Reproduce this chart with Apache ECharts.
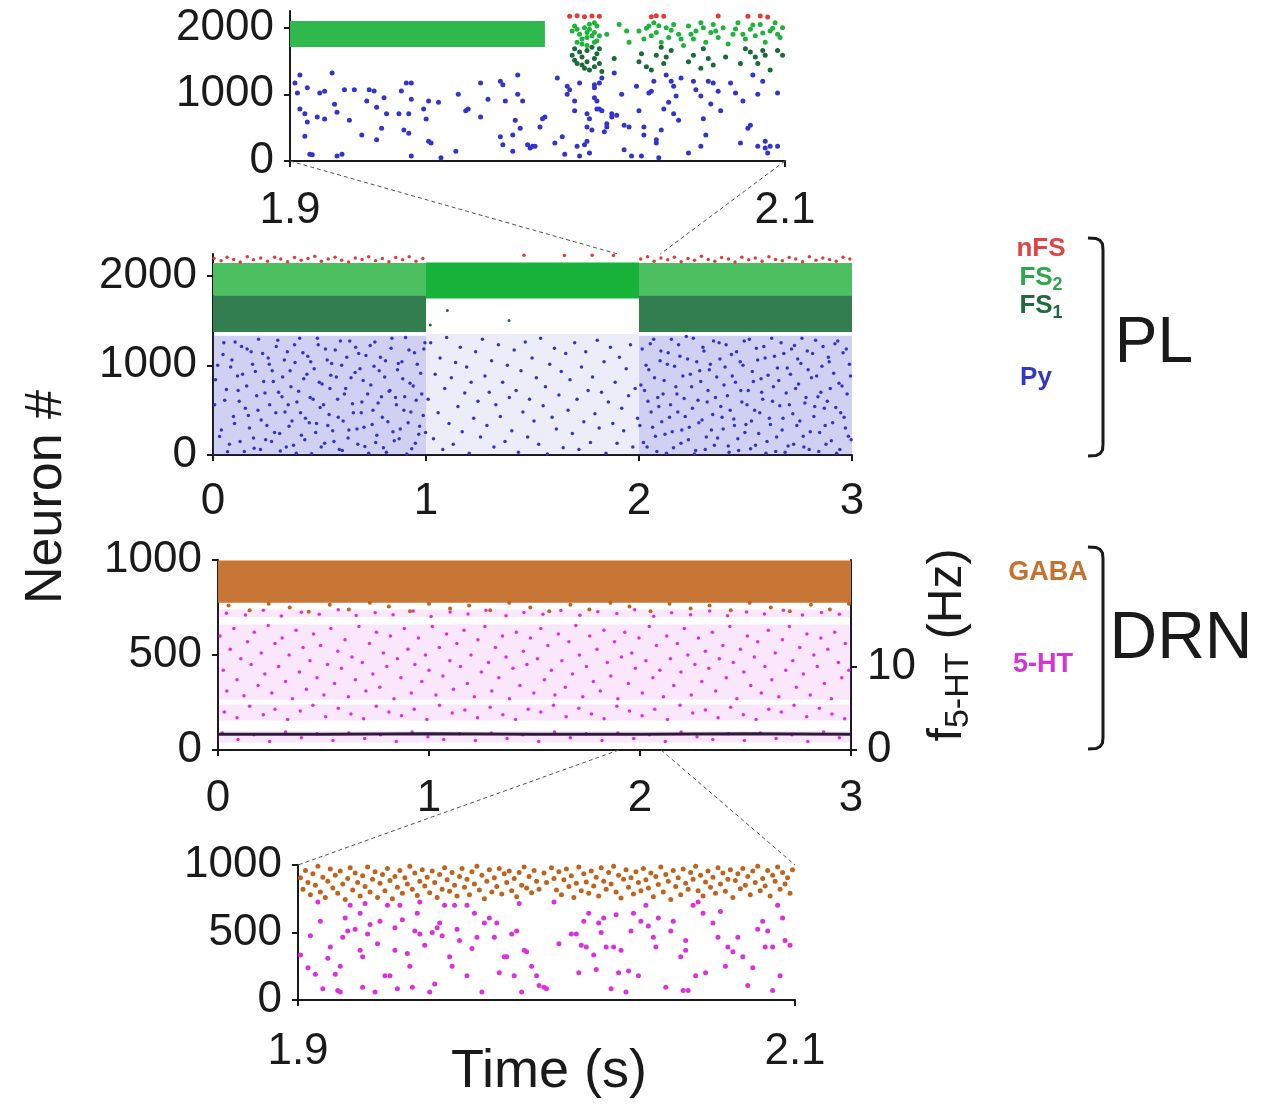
<!DOCTYPE html>
<html>
<head>
<meta charset="utf-8">
<script src="https://cdn.jsdelivr.net/npm/echarts@6/dist/echarts.min.js"></script>
<style>
html, body { margin: 0; padding: 0; background: #fff; }
#chart { width: 1266px; height: 1111px; }
</style>
</head>
<body>
<div id="chart"></div>
<script>
// ---- data: times in ms, neuron index ----
// top inset (PL, 1.9-2.1 s)
var fs2InsetBlock = [[1900, 2003, 1710, 2100]];
var pyInset = [1902,1170, 1903,1020, 1904,780, 1906,710, 1906,370, 1907,585, 1908,100, 1909,95, 1904,1290, 1907,1100, 1911,660, 1912,1020, 1914,1045, 1914,630, 1917,1320, 1918,850, 1919,730, 1919,75, 1921,100, 1922,1070, 1924,610, 1926,1070, 1929,390, 1931,900, 1932,1070, 1934,1050, 1935,805, 1935,320, 1937,490, 1938,950, 1939,710, 1944,710, 1945,1050, 1946,465, 1947,1170, 1948,415, 1949,1170, 1949,925, 1948,710, 1949,75, 1954,780, 1955,630, 1956,900, 1956,295, 1957,270, 1960,880, 1961,50, 1967,145, 1968,1000, 1971,755, 1972,780, 1977,1170, 1977,660, 1980,925, 1985,365, 1985,1195, 1986,1145, 1986,245, 1987,900, 1990,390, 1990,145, 1991,610, 1992,1000, 1992,1290, 1993,490, 1994,900, 1996,245, 1997,195, 1998,220, 1999,220, 2001,510, 2002,635, 2003,660, 2007,270, 2008,1245, 2010,365, 2011,100, 2012,1000, 2012,1120, 2013,1070, 2015,755, 2015,900, 2016,220, 2017,1170, 2017,75, 2019,245, 2020,295, 2020,710, 2020,510, 2021,635, 2021,120, 2022,465, 2023,1145, 2023,1100, 2023,950, 2024,780, 2024,900, 2025,780, 2025,1170, 2026,1245, 2027,440, 2028,560, 2026,755, 2028,510, 2030,710, 2030,660, 2031,1320, 2032,685, 2034,1000, 2035,170, 2035,535, 2037,510, 2038,75, 2040,1120, 2041,755, 2042,75, 2043,510, 2043,390, 2045,1020, 2046,1045, 2047,1195, 2048,270, 2048,320, 2049,50, 2050,465, 2051,780, 2052,1290, 2053,880, 2054,1195, 2055,1120, 2055,710, 2056,975, 2057,610, 2058,1245, 2061,120, 2063,1195, 2064,1070, 2066,975, 2066,220, 2067,635, 2068,390, 2069,1195, 2070,855, 2071,1170, 2073,1045, 2074,755, 2078,1170, 2080,1020, 2082,270, 2083,900, 2085,490, 2086,535, 2087,1290, 2089,1000, 2089,220, 2091,1195, 2092,295, 2092,195, 2093,120, 2094,220, 2097,1020, 2097,220];
var fs2Inset = [2015,2024, 2016,1976, 2017,1902, 2018,1829, 2019,2000, 2020,1927, 2020,1854, 2021,1976, 2022,1878, 2023,1780, 2023,1927, 2024,2024, 2025,1878, 2016,1780, 2018,1756, 2020,1732, 2023,2073, 2014,1950, 2021,2050, 2024,1800, 2028,1902, 2033,2049, 2036,1951, 2041,1951, 2043,1829, 2045,2024, 2046,1878, 2047,2073, 2048,1927, 2050,1780, 2052,2000, 2053,1854, 2055,2049, 2057,1902, 2059,1732, 2061,2024, 2063,1829, 2064,1951, 2066,2073, 2068,1780, 2070,1927, 2071,2049, 2073,1854, 2075,2000, 2077,1756, 2079,1902, 2081,2073, 2084,1829, 2086,1976, 2088,1878, 2090,2049, 2092,1780, 2094,1951, 2096,2073, 2098,1854, 2099,2000, 2037,1780, 2058,1829, 2044,1990, 2049,2030, 2054,1960, 2062,1900, 2067,2000, 2072,1950, 2080,1980, 2083,1900, 2087,2040, 2091,1920, 2095,1990, 2097,1900];
var fs1Inset = [2014,1585, 2015,1512, 2015,1683, 2016,1463, 2017,1634, 2018,1439, 2018,1561, 2019,1390, 2020,1659, 2020,1488, 2021,1366, 2022,1707, 2023,1537, 2023,1415, 2024,1610, 2025,1463, 2025,1683, 2026,1341, 2031,1537, 2041,1488, 2042,1610, 2044,1415, 2046,1366, 2048,1585, 2050,1707, 2051,1463, 2052,1561, 2054,1659, 2061,1488, 2063,1585, 2066,1390, 2067,1683, 2069,1537, 2071,1439, 2076,1561, 2082,1463, 2084,1683, 2086,1634, 2088,1561, 2089,1463, 2091,1659, 2092,1585, 2094,1366, 2097,1659, 2099,1585];
var nfsInset = [2013,2170, 2016,2180, 2019,2165, 2022,2175, 2025,2170, 2046,2165, 2048,2180, 2051,2170, 2073,2175, 2085,2170, 2090,2175, 2093,2160];

// main PL panel (0-3 s)
var pyDenseBand = [[0, 1000, 0, 1330], [2000, 3000, 0, 1330]];
var pySparseBand = [[1000, 2000, 0, 1350]];
var fs1Band = [[0, 1000, 1370, 1780], [2000, 3000, 1370, 1780]];
var fs2Band = [[0, 1000, 1780, 2140], [2000, 3000, 1780, 2140]];
var fs2Burst = [[1000, 2000, 1745, 2145]];
var pyMainA = [12,840, 31,205, 47,1120, 55,610, 68,35, 83,980, 96,430, 104,1260, 118,720, 127,150, 139,900, 152,520, 160,1180, 171,300, 186,1010, 193,75, 205,660, 214,1290, 226,390, 238,820, 247,170, 259,1080, 266,560, 278,940, 289,250, 297,1210, 308,700, 316,45, 327,870, 338,480, 349,1150, 357,320, 366,760, 378,110, 385,1030, 394,590, 407,1300, 415,220, 426,850, 434,410, 445,1100, 456,640, 463,15, 475,960, 486,350, 494,1230, 503,530, 512,790, 524,130, 536,1060, 545,450, 553,890, 562,270, 574,1170, 585,620, 593,60, 604,1000, 611,380, 623,740, 634,190, 642,1270, 655,570, 667,920, 676,290, 684,1130, 696,470, 705,830, 713,95, 726,680, 738,1220, 747,340, 756,990, 764,140, 775,580, 786,1090, 795,420, 806,870, 814,30, 827,710, 836,1190, 845,260, 857,640, 866,950, 874,180, 887,1040, 896,500, 904,1310, 916,360, 925,800, 933,70, 946,1140, 954,610, 966,230, 975,910, 987,440, 995,1250,
  8,560, 22,1000, 39,280, 51,1250, 63,730, 77,120, 89,1060, 101,350, 115,880, 123,600, 134,1210, 147,40, 158,770, 166,440, 179,1150, 190,190, 199,930, 211,500, 223,60, 233,1130, 244,690, 253,330, 264,1010, 275,150, 283,820, 295,470, 304,1280, 313,240, 324,650, 335,1060, 344,90, 353,560, 362,940, 371,380, 383,1230, 391,20, 402,710, 411,470, 422,1140, 431,170, 441,900, 452,360, 459,1040, 470,620, 482,250, 490,1300, 499,810, 508,90, 519,560, 528,1180, 539,330, 549,740, 557,1020, 568,150, 579,870, 588,420, 598,1270, 607,50, 617,680, 628,1090, 638,280, 648,860, 659,470, 670,1200, 680,120, 690,960, 699,590, 709,310, 718,1110, 731,20, 741,780, 751,500, 760,1260, 769,220, 780,940, 791,650, 800,80, 810,1050, 821,370, 831,720, 840,1300, 851,160, 861,560, 870,1020, 879,290, 891,850, 900,650, 910,10, 920,1170, 929,480, 940,770, 950,130, 959,1010, 970,320, 980,680, 990,1180, 998,250];
var pyMainB = [1010,620, 1022,1250, 1035,180, 1043,900, 1057,470, 1066,1080, 1079,60, 1088,740, 1097,1310, 1108,350, 1119,860, 1128,120, 1139,1030, 1150,540, 1161,1200, 1170,260, 1182,690, 1191,980, 1203,20, 1212,810, 1224,410, 1233,1150, 1244,600, 1256,200, 1265,1290, 1277,880, 1286,330, 1297,700, 1308,1050, 1319,90, 1328,560, 1340,1230, 1349,430, 1360,810, 1371,150, 1382,1000, 1391,640, 1403,270, 1414,1170, 1423,720, 1434,30, 1446,940, 1455,480, 1466,1260, 1477,200, 1486,620, 1498,1080, 1507,380, 1518,860, 1529,120, 1538,1300, 1550,550, 1561,760, 1570,10, 1581,1010, 1592,420, 1603,1190, 1612,290, 1624,670, 1635,930, 1644,80, 1656,1130, 1667,500, 1676,840, 1687,240, 1698,1250, 1709,620, 1718,60, 1730,980, 1741,370, 1750,1150, 1761,720, 1772,140, 1782,870, 1793,460, 1804,1280, 1813,300, 1824,700, 1836,1040, 1845,20, 1856,590, 1866,1200, 1877,350, 1888,810, 1897,130, 1908,1090, 1919,520, 1928,270, 1940,960, 1951,660, 1960,1230, 1971,90, 1982,740, 1993,410];
var pyMainC = [2004,330, 2015,1180, 2026,720, 2038,90, 2046,950, 2057,480, 2069,1290, 2077,210, 2088,640, 2099,1050, 2107,370, 2118,830, 2129,20, 2137,1140, 2148,560, 2156,260, 2167,990, 2178,680, 2186,1230, 2197,130, 2206,880, 2217,430, 2228,1070, 2236,310, 2247,760, 2255,1300, 2266,50, 2277,610, 2285,940, 2296,390, 2305,1160, 2316,200, 2324,720, 2335,1010, 2346,450, 2354,110, 2365,870, 2376,1250, 2384,540, 2395,290, 2404,980, 2415,660, 2423,30, 2434,1120, 2445,400, 2453,810, 2464,180, 2475,1040, 2483,590, 2494,1270, 2502,340, 2513,720, 2524,70, 2532,930, 2543,500, 2551,1190, 2562,240, 2573,850, 2581,620, 2592,1080, 2601,150, 2612,410, 2623,1300, 2631,760, 2642,40, 2650,970, 2661,550, 2672,280, 2680,1130, 2691,690, 2700,100, 2711,900, 2722,460, 2730,1220, 2741,330, 2749,790, 2760,1020, 2771,210, 2779,580, 2790,1160, 2799,60, 2810,860, 2821,430, 2829,1280, 2840,650, 2848,250, 2859,990, 2870,520, 2878,120, 2889,1090, 2898,740, 2909,360, 2920,1240, 2928,20, 2939,800, 2947,470, 2958,1140, 2969,300, 2977,680, 2988,1010, 2996,170,
  2009,780, 2021,140, 2033,1000, 2042,600, 2053,1240, 2064,310, 2073,860, 2084,40, 2093,540, 2103,1160, 2113,680, 2122,230, 2133,1010, 2143,420, 2152,1290, 2162,80, 2173,760, 2182,480, 2192,1100, 2201,280, 2212,630, 2222,1320, 2232,170, 2241,900, 2251,520, 2260,10, 2271,1040, 2281,360, 2290,820, 2300,1200, 2311,60, 2320,590, 2330,950, 2340,280, 2350,1270, 2359,640, 2369,190, 2380,1070, 2390,420, 2399,780, 2409,1230, 2419,100, 2428,500, 2438,880, 2448,330, 2458,1150, 2468,50, 2478,720, 2488,1000, 2497,250, 2507,560, 2518,1290, 2528,380, 2537,820, 2547,110, 2557,1060, 2567,470, 2576,700, 2586,1210, 2596,20, 2606,890, 2617,340, 2627,600, 2636,1100, 2646,200, 2656,830, 2667,1250, 2676,410, 2686,30, 2696,970, 2706,560, 2716,1180, 2726,120, 2735,740, 2745,1070, 2755,380, 2765,1300, 2774,90, 2784,640, 2794,950, 2804,260, 2815,1130, 2825,540, 2834,880, 2844,40, 2854,700, 2864,1210, 2874,330, 2884,600, 2893,1040, 2903,160, 2914,910, 2924,530, 2933,1270, 2943,60, 2953,770, 2963,420, 2973,1180, 2983,210, 2993,880];
var fs1Stray = [1100,1610, 1390,1500, 1020,1450];
var nfsMain = [5,2190, 38,2165, 66,2205, 97,2180, 128,2150, 161,2210, 190,2175, 224,2195, 256,2160, 289,2205, 318,2185, 350,2155, 383,2200, 414,2170, 446,2190, 478,2215, 509,2160, 541,2185, 573,2205, 604,2170, 637,2150, 668,2195, 700,2180, 731,2210, 763,2165, 795,2190, 826,2155, 858,2200, 890,2175, 921,2210, 953,2160, 985,2190,
  1460,2225, 1650,2222, 1780,2226, 1880,2224,
  2008,2185, 2040,2210, 2071,2160, 2103,2195, 2135,2175, 2166,2205, 2198,2155, 2230,2190, 2261,2170, 2293,2215, 2325,2180, 2356,2160, 2388,2200, 2420,2185, 2451,2150, 2483,2205, 2515,2175, 2546,2195, 2578,2160, 2610,2210, 2641,2180, 2673,2165, 2705,2200, 2736,2185, 2768,2155, 2800,2210, 2831,2170, 2863,2195, 2895,2180, 2926,2160, 2958,2205, 2990,2185];

// DRN panel (0-3 s)
var gabaBand = [[0, 3000, 775, 998]];
var htBands = [[0, 3000, 700, 740], [0, 3000, 265, 660], [0, 3000, 155, 240], [0, 3000, 40, 100]];
var gabaEdge = [50,760, 150,735, 240,770, 340,750, 430,728, 530,765, 620,740, 720,775, 810,755, 910,730, 1000,770, 1100,745, 1190,760, 1290,735, 1380,775, 1480,750, 1570,730, 1670,765, 1760,740, 1860,775, 1950,755, 2050,730, 2140,770, 2240,745, 2330,760, 2430,735, 2520,775, 2620,750, 2710,730, 2810,765, 2900,740, 2990,770];
var htMain = [40,720, 130,710, 215,735, 300,705, 395,725, 480,715, 570,738, 655,708, 745,722, 830,712, 925,732, 1010,703, 1100,726, 1185,716, 1270,736, 1365,706, 1450,724, 1540,714, 1625,734, 1715,709, 1800,728, 1890,718, 1975,738, 2065,704, 2150,722, 2240,712, 2330,732, 2415,707, 2505,726, 2590,716, 2680,736, 2770,710, 2860,724, 2945,714,
  10,600, 25,420, 42,310, 58,530, 75,640, 90,370, 108,480, 123,285, 140,570, 157,450, 172,620, 190,340, 205,510, 222,400, 238,655, 255,300, 270,560, 287,440, 304,590, 320,360, 337,500, 353,270, 370,630, 386,410, 403,540, 419,320, 436,470, 453,610, 469,380, 486,550, 502,290, 519,450, 535,640, 552,350, 568,520, 585,430, 602,580, 618,280, 635,490, 651,370, 668,650, 684,460, 701,310, 718,560, 734,400, 751,620, 767,330, 784,510, 800,440, 817,600, 834,270, 850,480, 867,380, 883,640, 900,530, 916,300, 933,450, 950,590, 966,360, 983,500, 1000,420, 1016,650, 1033,290, 1049,540, 1066,390, 1083,610, 1099,470, 1116,320, 1132,560, 1149,440, 1166,630, 1182,350, 1199,500, 1215,280, 1232,580, 1248,410, 1265,650, 1282,460, 1298,310, 1315,540, 1331,380, 1348,600, 1365,490, 1381,270, 1398,430, 1414,620, 1431,340, 1447,520, 1464,450, 1481,590, 1497,300, 1514,480, 1530,640, 1547,370, 1563,550, 1580,420, 1597,290, 1613,610, 1630,470, 1646,330, 1663,570, 1680,400, 1696,655, 1713,500, 1729,280, 1746,440, 1762,600, 1779,360, 1796,530, 1812,310, 1829,630, 1845,460, 1862,390, 1879,570, 1895,270, 1912,490, 1928,620, 1945,350, 1961,510, 1978,430, 1995,590, 2011,300, 2028,470, 2044,650, 2061,380, 2078,550, 2094,420, 2111,280, 2127,600, 2144,480, 2160,340, 2177,560, 2194,410, 2210,640, 2227,500, 2243,290, 2260,450, 2277,590, 2293,360, 2310,520, 2326,430, 2343,620, 2359,310, 2376,480, 2393,550, 2409,380, 2426,650, 2442,460, 2459,270, 2476,530, 2492,410, 2509,600, 2525,340, 2542,490, 2558,570, 2575,300, 2592,440, 2608,630, 2625,370, 2641,510, 2658,280, 2675,580, 2691,420, 2708,650, 2724,470, 2741,330, 2757,540, 2774,400, 2791,610, 2807,290, 2824,500, 2840,440, 2857,590, 2874,350, 2890,530, 2907,270, 2923,620, 2940,460, 2956,380, 2973,560, 2990,420,
  30,200, 90,170, 150,230, 215,185, 270,215, 330,160, 390,205, 450,235, 510,175, 570,220, 630,190, 690,165, 750,230, 810,200, 870,180, 930,215, 990,160, 1050,235, 1110,195, 1170,210, 1230,170, 1290,225, 1350,185, 1410,160, 1470,215, 1530,200, 1590,235, 1650,175, 1710,220, 1770,190, 1830,165, 1890,230, 1950,205, 2010,180, 2070,215, 2130,160, 2190,235, 2250,195, 2310,210, 2370,170, 2430,225, 2490,185, 2550,160, 2610,215, 2670,200, 2730,235, 2790,175, 2850,220, 2910,190, 2970,165,
  20,90, 95,55, 170,80, 245,45, 320,95, 395,65, 470,85, 545,50, 620,90, 695,60, 770,80, 845,45, 920,95, 995,70, 1070,55, 1145,85, 1220,50, 1295,90, 1370,60, 1445,80, 1520,45, 1595,95, 1670,65, 1745,85, 1820,50, 1895,90, 1970,60, 2045,80, 2120,45, 2195,95, 2270,70, 2345,55, 2420,85, 2495,50, 2570,90, 2645,60, 2720,80, 2795,45, 2870,95, 2945,65];
var f5htTimes = [0, 500, 1000, 1500, 2000, 2500, 3000];
var f5htRate = [1.9, 1.9, 1.95, 1.9, 1.9, 1.95, 1.9];

// bottom inset (DRN, 1.9-2.1 s)
var gabaInset = [1901,905, 1902,820, 1903,960, 1904,870, 1905,780, 1906,935, 1907,850, 1908,990, 1909,800, 1910,910, 1911,760, 1912,880, 1913,970, 1914,830, 1915,925, 1916,790, 1917,955, 1918,860, 1919,745, 1920,900, 1921,980, 1922,815, 1923,940, 1924,870, 1925,770, 1926,920, 1927,840, 1928,985, 1929,800, 1930,895, 1931,950, 1932,760, 1933,865, 1934,930, 1935,810, 1936,975, 1937,885, 1938,750, 1939,915, 1940,835, 1941,960, 1942,790, 1943,905, 1944,860, 1945,990, 1946,820, 1947,940, 1948,775, 1949,880, 1950,965, 1951,845, 1952,910, 1953,795, 1954,955, 1955,870, 1956,760, 1957,930, 1958,820, 1959,980, 1960,890, 1961,805, 1962,945, 1963,850, 1964,770, 1965,915, 1966,975, 1967,835, 1968,895, 1969,780, 1970,950, 1971,860, 1972,990, 1973,815, 1974,925, 1975,750, 1976,880, 1977,965, 1978,800, 1979,905, 1980,840, 1981,975, 1982,785, 1983,935, 1984,870, 1985,955, 1986,810, 1987,900, 1988,765, 1989,945, 1990,850, 1991,985, 1992,830, 1993,915, 1994,795, 1995,960, 1996,880, 1997,820, 1999,940, 2000,870, 2002,980, 2003,900, 2004,815, 2005,950, 2006,780, 2007,890, 2008,970, 2009,840, 2010,920, 2011,760, 2012,865, 2013,985, 2014,810, 2015,935, 2016,875, 2017,790, 2018,955, 2019,845, 2020,910, 2021,770, 2022,980, 2023,880, 2024,820, 2025,945, 2026,860, 2027,990, 2028,800, 2029,925, 2030,755, 2031,895, 2032,965, 2033,835, 2034,905, 2035,785, 2036,950, 2037,870, 2038,810, 2039,975, 2040,890, 2041,830, 2042,940, 2043,765, 2044,915, 2045,855, 2046,985, 2047,800, 2048,930, 2049,880, 2050,745, 2051,960, 2052,840, 2053,905, 2054,780, 2055,970, 2056,865, 2057,820, 2058,945, 2059,895, 2060,990, 2061,810, 2062,925, 2063,770, 2064,875, 2065,955, 2066,835, 2067,910, 2068,790, 2069,980, 2070,860, 2071,940, 2072,805, 2073,895, 2074,965, 2075,760, 2076,885, 2077,935, 2078,825, 2079,975, 2080,850, 2081,915, 2082,780, 2083,955, 2084,870, 2085,990, 2086,810, 2087,900, 2088,845, 2089,960, 2090,770, 2091,925, 2092,880, 2093,985, 2094,820, 2095,945, 2096,860, 2097,905, 2098,790, 2099,965];
var htInset = [1901,333, 1904,238, 1905,476, 1907,190, 1908,726, 1909,583, 1910,83, 1912,310, 1913,393, 1915,190, 1916,71, 1917,60, 1917,250, 1918,464, 1919,607, 1920,512, 1921,702, 1923,524, 1925,369, 1925,643, 1926,95, 1926,321, 1927,714, 1928,488, 1929,560, 1931,60, 1932,417, 1933,583, 1935,179, 1936,702, 1937,179, 1939,369, 1939,536, 1940,83, 1941,702, 1942,595, 1944,345, 1945,250, 1946,95, 1947,512, 1948,643, 1949,726, 1949,488, 1951,405, 1953,60, 1954,500, 1955,119, 1956,536, 1957,571, 1958,476, 1959,702, 1961,321, 1962,250, 1963,702, 1964,524, 1965,440, 1968,179, 1968,702, 1970,381, 1971,643, 1972,464, 1974,60, 1975,571, 1977,607, 1979,464, 1980,571, 1981,202, 1983,321, 1984,321, 1986,488, 1987,179, 1988,512, 1989,714, 1990,60, 1991,369, 1992,357, 1994,250, 1996,179, 1997,107, 1999,95, 2000,83, 2003,726, 2005,417, 2010,488, 2012,488, 2013,202, 2014,405, 2015,583, 2016,393, 2017,643, 2019,333, 2020,226, 2021,571, 2022,500, 2023,607, 2024,393, 2026,83, 2027,393, 2028,631, 2029,202, 2030,369, 2032,60, 2033,214, 2034,512, 2035,643, 2037,179, 2038,583, 2040,702, 2041,548, 2043,464, 2044,393, 2045,607, 2048,95, 2050,512, 2051,583, 2054,321, 2055,71, 2056,440, 2056,369, 2057,71, 2059,702, 2060,179, 2061,726, 2063,643, 2064,202, 2067,571, 2069,464, 2070,655, 2072,250, 2073,393, 2075,357, 2077,464, 2079,321, 2081,107, 2083,238, 2085,524, 2087,583, 2088,393, 2089,512, 2091,393, 2091,71, 2093,702, 2094,179, 2095,607, 2096,440, 2098,405];

// ---- helpers ----
function pts(flat) {
  var out = [];
  for (var i = 0; i < flat.length; i += 2) out.push([flat[i] / 1000, flat[i + 1]]);
  return out;
}
function bands(list) {
  return list.map(function (b) { return [b[0] / 1000, b[1] / 1000, b[2], b[3]]; });
}
function rectItem(params, api) {
  var a = api.coord([api.value(0), api.value(3)]);
  var b = api.coord([api.value(1), api.value(2)]);
  return {
    type: 'rect',
    shape: { x: a[0], y: a[1], width: b[0] - a[0], height: b[1] - a[1] },
    style: { fill: api.visual('color') }
  };
}
function dots(xi, yi, data, color, size) {
  return {
    type: 'scatter', xAxisIndex: xi, yAxisIndex: yi, data: pts(data),
    symbol: 'circle', symbolSize: size, itemStyle: { color: color, opacity: 1 },
    silent: true, z: 3
  };
}
function blocks(xi, yi, data, color) {
  return {
    type: 'custom', xAxisIndex: xi, yAxisIndex: yi, data: bands(data),
    renderItem: rectItem, encode: { x: [0, 1], y: [2, 3] }, clip: true,
    itemStyle: { color: color }, silent: true, z: 1
  };
}

var FONT = 'Liberation Sans';
var ink = '#1a1a1a';
var BLUE = '#3434cc', GREEN = '#1db33c', DKGREEN = '#1b6a3a', RED = '#e23b3b';
var BROWN = '#c2631d', MAGENTA = '#dd2fdd';

function xAx(grid, min, max, ticks, margin) {
  return {
    type: 'value', gridIndex: grid, min: min, max: max,
    axisLine: { show: true, onZero: false, lineStyle: { color: ink, width: 2 } },
    axisTick: { show: true, length: 6, customValues: ticks, lineStyle: { color: ink, width: 2 } },
    axisLabel: { customValues: ticks, fontSize: 44, fontFamily: FONT, color: ink, margin: margin,
      formatter: function (v) { return String(v); } },
    splitLine: { show: false }
  };
}
function yAx(grid, max, ticks, pos) {
  return {
    type: 'value', gridIndex: grid, min: 0, max: max, position: pos || 'left',
    axisLine: { show: true, onZero: false, lineStyle: { color: ink, width: 2 } },
    axisTick: { show: true, length: 6, customValues: ticks, lineStyle: { color: ink, width: 2 } },
    axisLabel: { customValues: ticks, fontSize: 44, fontFamily: FONT, color: ink, margin: 16,
      formatter: function (v) { return String(v); } },
    splitLine: { show: false }
  };
}

var chart = echarts.init(document.getElementById('chart'));
var option = {
  animation: false,
  backgroundColor: '#fff',
  grid: [
    { left: 290, top: 11, width: 495, height: 150 },
    { left: 213, top: 254, width: 639, height: 201 },
    { left: 218, top: 560, width: 633, height: 190 },
    { left: 298, top: 865, width: 497, height: 135 }
  ],
  xAxis: [
    xAx(0, 1.9, 2.1, [1.9, 2.1], 28),
    xAx(1, 0, 3, [0, 1, 2, 3], 25),
    xAx(2, 0, 3, [0, 1, 2, 3], 27),
    xAx(3, 1.9, 2.1, [1.9, 2.1], 30)
  ],
  yAxis: [
    yAx(0, 2250, [0, 1000, 2000]),
    yAx(1, 2240, [0, 1000, 2000]),
    yAx(2, 1000, [0, 500, 1000]),
    yAx(2, 22.8, [0, 10], 'right'),
    yAx(3, 1000, [0, 500, 1000])
  ],
  series: [
    // top inset
    blocks(0, 0, fs2InsetBlock, '#2fb84c'),
    dots(0, 0, pyInset, BLUE, 5),
    dots(0, 0, fs2Inset, GREEN, 5),
    dots(0, 0, fs1Inset, DKGREEN, 5),
    dots(0, 0, nfsInset, RED, 5),
    // main PL
    blocks(1, 1, pyDenseBand, 'rgba(60,60,205,0.24)'),
    blocks(1, 1, pySparseBand, 'rgba(60,60,205,0.09)'),
    blocks(1, 1, fs1Band, '#337e4f'),
    blocks(1, 1, fs2Band, '#4cbf60'),
    blocks(1, 1, fs2Burst, '#17b33b'),
    dots(1, 1, pyMainA, BLUE, 3.5),
    dots(1, 1, pyMainB, BLUE, 3.5),
    dots(1, 1, pyMainC, BLUE, 3.5),
    dots(1, 1, fs1Stray, DKGREEN, 3),
    dots(1, 1, nfsMain, RED, 3.5),
    // DRN
    blocks(2, 2, htBands, 'rgba(225,60,225,0.12)'),
    blocks(2, 2, gabaBand, '#c87636'),
    dots(2, 2, gabaEdge, BROWN, 4),
    dots(2, 2, htMain, MAGENTA, 3.5),
    {
      type: 'line', xAxisIndex: 2, yAxisIndex: 3,
      data: f5htTimes.map(function (t, i) { return [t / 1000, f5htRate[i]]; }),
      symbol: 'none', lineStyle: { color: '#2e1a3c', width: 3 }, silent: true, z: 4
    },
    // bottom inset
    dots(3, 4, gabaInset, BROWN, 5),
    dots(3, 4, htInset, MAGENTA, 5)
  ]
};
chart.setOption(option);

// zoom connector lines between panels and insets
function px(xi, yi, v) { return chart.convertToPixel({ xAxisIndex: xi, yAxisIndex: yi }, v); }
function dash(a, b) {
  return { type: 'line', shape: { x1: a[0], y1: a[1], x2: b[0], y2: b[1] },
    style: { stroke: '#555', lineWidth: 1, lineDash: [4, 3] }, z: 10 };
}
function txt(x, y, text, size, color, opts) {
  opts = opts || {};
  return { type: 'text', x: x, y: y, rotation: opts.rotation || 0, z: 20,
    style: { text: text, fontSize: size, fontFamily: FONT, fontWeight: opts.bold ? 'bold' : 'normal',
      fill: color, align: 'center', verticalAlign: 'middle', rich: opts.rich } };
}
function sub(main, s, color) {
  return {
    text: '{a|' + main + '}{b|' + s + '}',
    rich: {
      a: { fontSize: 26, fontWeight: 'bold', fontFamily: FONT, color: color },
      b: { fontSize: 18, fontWeight: 'bold', fontFamily: FONT, color: color, padding: [14, 0, 0, 0] }
    }
  };
}
function bracket(top, bottom) {
  var x = 1103, l = 1088;
  return { type: 'polyline', z: 20,
    shape: { points: [[l, top], [1096, top + 0.5], [1100, top + 2.5], [1102.5, top + 6], [x, top + 12],
      [x, bottom - 12], [1102.5, bottom - 6], [1100, bottom - 2.5], [1096, bottom - 0.5], [l, bottom]] },
    style: { stroke: ink, fill: null, lineWidth: 3 } };
}
var fs2Lab = sub('FS', '2', '#2aa84a');
var fs1Lab = sub('FS', '1', '#1e6a3e');
var hzRich = {
  a: { fontSize: 48, fontFamily: FONT, color: ink },
  b: { fontSize: 34, fontFamily: FONT, color: ink, padding: [22, 0, 0, 0] }
};

chart.setOption({
  graphic: [
    dash(px(0, 0, [1.9, 0]), px(1, 1, [1.9, 2240])),
    dash(px(0, 0, [2.1, 0]), px(1, 1, [2.1, 2240])),
    dash(px(2, 2, [1.9, 0]), px(3, 4, [1.9, 1000])),
    dash(px(2, 2, [2.1, 0]), px(3, 4, [2.1, 1000])),
    txt(47, 497, 'Neuron #', 52, ink, { rotation: Math.PI / 2 }),
    txt(549, 1072, 'Time (s)', 54, ink),
    txt(948, 645, '{a|f}{b|5-HT}{a| (Hz)}', 48, ink, { rotation: Math.PI / 2, rich: hzRich }),
    txt(1041, 249, 'nFS', 26, '#e04545', { bold: true }),
    txt(1041, 278, fs2Lab.text, 26, '#2aa84a', { rich: fs2Lab.rich }),
    txt(1041, 306, fs1Lab.text, 26, '#1e6a3e', { rich: fs1Lab.rich }),
    txt(1036, 378, 'Py', 26, '#3636c6', { bold: true }),
    txt(1154, 344, 'PL', 64, ink),
    txt(1048, 573, 'GABA', 27, '#c6712d', { bold: true }),
    txt(1043, 665, '5-HT', 27, '#d633d6', { bold: true }),
    txt(1181, 640, 'DRN', 66, ink),
    bracket(238, 456),
    bracket(547, 749)
  ]
});
</script>
</body>
</html>
